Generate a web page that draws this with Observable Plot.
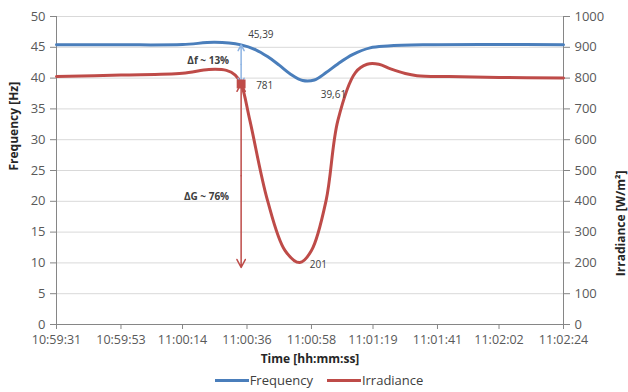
<!DOCTYPE html>
<html>
<head>
<meta charset="utf-8">
<script src="https://cdn.jsdelivr.net/npm/d3@7"></script>
<script src="https://cdn.jsdelivr.net/npm/@observablehq/plot@0.6"></script>
<style>
  body { margin: 0; background: #fff; font-family: "Open Sans", sans-serif; }
  #legend { height: 24px; display: flex; justify-content: center; align-items: center; gap: 14px; font-size: 13px; color: #404040; padding-left: 10px; }
  .sw { display: inline-block; width: 34px; height: 3px; vertical-align: middle; margin-right: 1px; }
  .item { display: flex; align-items: center; }
</style>
</head>
<body>
<div id="chart"></div>
<div id="legend"></div>
<script>
// ---- data ----
const tickLabels = ["10:59:31","10:59:53","11:00:14","11:00:36","11:00:58","11:01:19","11:01:41","11:02:02","11:02:24"];
const freqTicks = [0,5,10,15,20,25,30,35,40,45,50];
const irrTicks = [0,100,200,300,400,500,600,700,800,900,1000];

// seconds after 10:59:31
const freqTime   = [0, 22, 43, 54, 63, 68, 72, 76, 80, 84, 88, 92, 96, 101, 107, 113, 125, 151, 173];
const freqValues = [45.4, 45.4, 45.45, 45.8, 45.39, 44.6, 43.5, 42.1, 40.6, 39.61, 39.7, 40.9, 42.3, 43.8, 44.9, 45.2, 45.4, 45.45, 45.4];

const irrTime   = [0, 22, 43, 52, 58, 61, 63, 66, 72, 78, 83, 87, 92, 96, 102, 106, 110, 114, 119, 123, 134, 151, 173];
const irrValues = [805, 810, 816, 828, 825, 810, 781, 662, 403, 240, 201, 240, 403, 662, 818, 845, 845, 830, 815, 808, 805, 802, 800];

const seriesNames = ["Frequency", "Irradiance"];
const freqPeak = {t: 63, v: 45.39};
const freqMin  = {t: 84, v: 39.61};
const irrDrop  = {t: 63, v: 781};
const irrMin   = {t: 83, v: 201};
const deltaLabels = ["Δf ~ 13%", "ΔG ~ 76%"];
const irrArrowEnd = 185;

// ---- derived ----
const toSec = s => { const [h, m, ss] = s.split(":").map(Number); return h * 3600 + m * 60 + ss; };
const t0 = toSec(tickLabels[0]);
const tickSecs = tickLabels.map(s => toSec(s) - t0);
const ratio = irrTicks[irrTicks.length - 1] / freqTicks[freqTicks.length - 1];
const fmt = v => String(v).replace(".", ",");

const freq = freqTime.map((t, i) => ({t, v: freqValues[i]}));
const irr = irrTime.map((t, i) => ({t, v: irrValues[i] / ratio}));

const blue = "#4A7EBB", red = "#BE4B48", blueArrow = "#8EB4E3";
const xMin = tickSecs[0], xMax = tickSecs[tickSecs.length - 1];

const fTop = freqPeak.v, fBot = irrDrop.v / ratio, fMid = (fTop + fBot) / 2;
const gTop = irrDrop.v / ratio, gBot = irrArrowEnd / ratio, gMid = (gTop + gBot) / 2;
const arrowsBlue = [
  {x: freqPeak.t, y1: fMid, y2: fTop},
  {x: freqPeak.t, y1: fMid, y2: fBot}
];
const arrowsRed = [
  {x: irrDrop.t, y1: gMid, y2: gTop + 0.1},
  {x: irrDrop.t, y1: gMid, y2: gBot}
];

const chart = Plot.plot({
  width: 628, height: 368,
  marginLeft: 56, marginRight: 65, marginTop: 16, marginBottom: 44,
  x: {domain: [xMin, xMax]},
  y: {domain: [freqTicks[0], freqTicks[freqTicks.length - 1]]},
  style: {fontFamily: "'Open Sans', sans-serif", background: "#fff"},
  marks: [
    Plot.gridY(freqTicks.slice(1), {stroke: "#d9d9d9", strokeOpacity: 1}),
    Plot.ruleX([xMin, xMax], {stroke: "#868686"}),
    Plot.ruleY([0], {stroke: "#868686"}),
    Plot.axisY(freqTicks, {anchor: "left", tickSize: 6, tickPadding: 5, fontSize: 13, stroke: "#868686", fill: "#595959", label: null}),
    Plot.axisY(freqTicks, {anchor: "right", tickSize: 6, tickPadding: 5, fontSize: 13, stroke: "#868686", fill: "#595959", label: null,
      tickFormat: d => String(d * ratio)}),
    Plot.axisX(tickSecs, {anchor: "bottom", tickSize: 5, tickPadding: 6, fontSize: 12.5, stroke: "#868686", fill: "#595959", label: null,
      tickFormat: (d, i) => tickLabels[i]}),
    Plot.text(["Time [hh:mm:ss]"], {frameAnchor: "bottom", dy: 38, fontSize: 12, fontWeight: "bold", fill: "#262626"}),
    Plot.text(["Frequency [Hz]"], {frameAnchor: "left", dx: -42, rotate: -90, fontSize: 12, fontWeight: "bold", fill: "#262626"}),
    Plot.text(["Irradiance [W/m²]"], {frameAnchor: "right", dx: 58, rotate: -90, fontSize: 12, fontWeight: "bold", fill: "#262626"}),
    Plot.line(freq, {x: "t", y: "v", stroke: blue, strokeWidth: 3, curve: "catmull-rom"}),
    Plot.line(irr, {x: "t", y: "v", stroke: red, strokeWidth: 3, curve: "catmull-rom"}),
    Plot.arrow(arrowsBlue, {x1: "x", x2: "x", y1: "y1", y2: "y2", stroke: blueArrow, strokeWidth: 1.5, headLength: 9, headAngle: 55}),
    Plot.arrow(arrowsRed, {x1: "x", x2: "x", y1: "y1", y2: "y2", stroke: red, strokeWidth: 1.5, headLength: 9, headAngle: 55}),
    Plot.dot([irrDrop], {x: "t", y: d => d.v / ratio, symbol: "square", fill: red, r: 5}),
    Plot.text([freqPeak], {x: "t", y: "v", text: d => fmt(d.v), dx: 7, dy: -10, textAnchor: "start", fontSize: 10, fill: "#404040"}),
    Plot.text([freqMin], {x: "t", y: "v", text: d => fmt(d.v), dx: 18, dy: 14, textAnchor: "start", fontSize: 10, fill: "#404040"}),
    Plot.text([irrDrop], {x: "t", y: d => d.v / ratio, text: d => fmt(d.v), dx: 15, dy: 2, textAnchor: "start", fontSize: 10, fill: "#404040"}),
    Plot.text([irrMin], {x: "t", y: d => d.v / ratio, text: d => fmt(d.v), dx: 10, dy: 2, textAnchor: "start", fontSize: 10, fill: "#404040"}),
    Plot.text([{x: freqPeak.t, y: fMid, s: deltaLabels[0]}], {x: "x", y: "y", text: "s", dx: -12, dy: -4, textAnchor: "end", fontSize: 10, fontWeight: "bold", fill: "#404040"}),
    Plot.text([{x: irrDrop.t, y: gMid, s: deltaLabels[1]}], {x: "x", y: "y", text: "s", dx: -12, dy: 21, textAnchor: "end", fontSize: 10, fontWeight: "bold", fill: "#404040"})
  ]
});
document.getElementById("chart").appendChild(chart);

const legend = document.getElementById("legend");
[blue, red].forEach((c, i) => {
  const it = document.createElement("span");
  it.className = "item";
  it.innerHTML = `<span class="sw" style="background:${c}"></span>${seriesNames[i]}`;
  legend.appendChild(it);
});
</script>
</body>
</html>
